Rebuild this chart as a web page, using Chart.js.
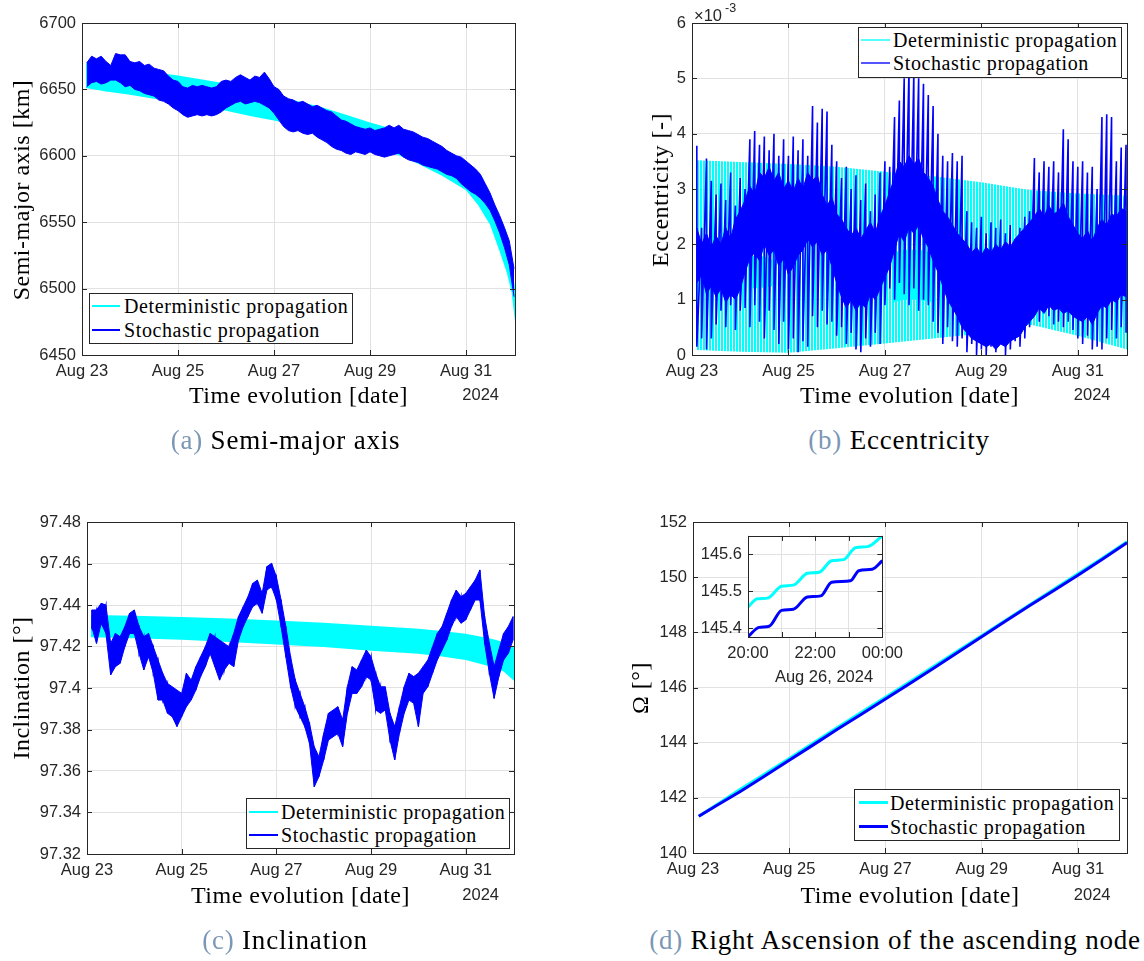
<!DOCTYPE html>
<html><head><meta charset="utf-8">
<script src="https://cdn.jsdelivr.net/npm/chart.js@4.4.1/dist/chart.umd.min.js"></script>
<style>
body{margin:0;background:#fff;}
#page{position:relative;width:1144px;height:961px;overflow:hidden;background:#fff;}
canvas{position:absolute;}
.t{position:absolute;white-space:nowrap;line-height:1;font-family:'Liberation Serif','Times New Roman',serif;color:#000;}
.lab{font-size:24px;letter-spacing:0.5px;transform:translate(-50%,-50%);}
.ylab{font-size:24px;letter-spacing:0.5px;transform:translate(-50%,-50%) rotate(-90deg);}
.cap{font-size:27px;letter-spacing:0.8px;transform:translate(-50%,-50%);}
.cap span{color:#7b97b5;}
.sans{position:absolute;white-space:nowrap;line-height:1;font-family:'Liberation Sans',Arial,sans-serif;color:#262626;}
.yr{font-size:16.5px;transform:translate(-100%,-50%);}
.leg{position:absolute;border:1px solid #262626;background:#fff;box-sizing:border-box;}
.legline{position:absolute;height:0;}
.legtxt{position:absolute;white-space:nowrap;line-height:1;font-family:'Liberation Serif','Times New Roman',serif;font-size:20px;letter-spacing:0.6px;transform:translateY(-50%);color:#000;}
</style>
</head>
<body>
<div id="page">
<canvas id="ca"></canvas>
<canvas id="cb"></canvas>
<canvas id="cc"></canvas>
<canvas id="cd"></canvas>
<canvas id="ci"></canvas>
</div>
<script>
// ================= DATA =================
// time axis: days since Aug 23 2024 00:00
const xTickDays = [0, 2, 4, 6, 8];
const xTickLabels = ['Aug 23', 'Aug 25', 'Aug 27', 'Aug 29', 'Aug 31'];

// sampling times of the stochastic traces (days)
const stochTime = [0.1,0.2,0.3,0.4,0.5,0.6,0.7,0.8,0.9,1.0,
 1.1,1.2,1.3,1.4,1.5,1.6,1.7,1.8,1.9,2.0,
 2.1,2.2,2.3,2.4,2.5,2.6,2.7,2.8,2.9,3.0,
 3.1,3.2,3.3,3.4,3.5,3.6,3.7,3.8,3.9,4.0,
 4.1,4.2,4.3,4.4,4.5,4.6,4.7,4.8,4.9,5.0,
 5.1,5.2,5.3,5.4,5.5,5.6,5.7,5.8,5.9,6.0,
 6.1,6.2,6.3,6.4,6.5,6.6,6.7,6.8,6.9,7.0,
 7.1,7.2,7.3,7.4,7.5,7.6,7.7,7.8,7.9,8.0,
 8.1,8.2,8.3,8.4,8.5,8.6,8.7,8.8,8.9,9.0];

// (a) semi-major axis [km]
const yTicksA = [6450, 6500, 6550, 6600, 6650, 6700];
const detTimeA = [0.08, 0.5, 1, 1.5, 2, 2.5, 3, 3.5, 4, 4.5, 5, 5.5, 6, 6.5, 7, 7.5, 8, 8.25, 8.5, 8.7, 8.85, 8.95, 9.02];
const detUpperA = [6670, 6668, 6665.5, 6663, 6660.5, 6657.5, 6654.5, 6650, 6645.5, 6641, 6636.5, 6631, 6625, 6620, 6613, 6604, 6593, 6582, 6567, 6549, 6533, 6518, 6500];
const detLowerA = [6651, 6648.5, 6646, 6643, 6640, 6637, 6634, 6630, 6626.5, 6622.5, 6618, 6612.5, 6607.5, 6602, 6594, 6585, 6574, 6563, 6548, 6528, 6512, 6497, 6475];
const stochUpperA = [6670,6675,6673,6675,6671,6668,6677,6676,6676,6671,
 6670,6671,6668,6669,6666,6665,6664,6660,6657,6656,
 6652,6651,6653,6652,6653,6652,6651,6652,6656,6657,
 6656,6659,6661,6659,6657,6660,6659,6663,6658,6652,
 6650,6645,6643,6642,6640,6641,6639,6637,6638,6636,
 6634,6633,6630,6627,6626,6624,6622,6621,6620,6621,
 6619,6620,6621,6623,6621,6623,6620,6619,6618,6616,
 6614,6613,6611,6609,6607,6604,6602,6600,6599,6596,
 6593,6590,6586,6579,6572,6563,6555,6546,6536,6515];
const stochLowerA = [6652,6655,6656,6654,6655,6657,6657,6655,6652,6653,
 6650,6649,6647,6646,6645,6642,6641,6639,6636,6634,
 6631,6629,6630,6631,6630,6631,6630,6631,6633,6636,
 6638,6640,6641,6639,6640,6641,6640,6638,6636,6632,
 6627,6622,6619,6618,6619,6617,6616,6617,6614,6612,
 6610,6607,6605,6604,6602,6601,6603,6602,6601,6603,
 6601,6600,6599,6600,6601,6602,6599,6597,6596,6595,
 6593,6592,6591,6590,6588,6586,6585,6583,6579,6576,
 6573,6571,6568,6564,6559,6551,6542,6531,6518,6494];

// (b) eccentricity [x 1e-3]
const yTicksB = [0, 1, 2, 3, 4, 5, 6];
const detTimeB = [0.1, 1, 2, 3, 4, 5, 6, 7, 8, 9.02];
const detUpperB = [3.52, 3.49, 3.45, 3.40, 3.31, 3.23, 3.12, 2.98, 2.92, 2.88];
const detLowerB = [0.09, 0.06, 0.04, 0.12, 0.21, 0.30, 0.39, 0.55, 0.35, 0.10];
const detDenseTime1 = [1.15, 1.3, 1.5, 1.72];
const detDenseUpper1 = [1.75, 1.8, 1.78, 1.7];
const detDenseLower1 = [1.22, 1.2, 1.22, 1.25];
const detDenseTime2 = [4.15, 4.4, 4.7, 5.0];
const detDenseUpper2 = [1.85, 1.9, 1.9, 1.85];
const detDenseLower2 = [0.95, 1.0, 1.0, 0.95];
const coreUpperB = [2.3,2.0,2.2,1.95,2.15,2.0,2.3,2.1,2.45,2.6,
 2.8,3.05,2.9,3.3,3.2,3.4,3.15,3.3,3.0,3.15,
 2.95,3.2,3.0,3.3,3.15,3.25,2.9,2.7,2.85,2.55,
 2.45,2.3,2.15,2.3,2.1,2.25,2.4,2.2,2.5,2.7,
 2.95,3.2,3.5,3.4,3.6,3.45,3.55,3.3,3.2,3.05,
 2.8,2.6,2.5,2.35,2.2,2.1,2.0,1.85,1.95,1.8,
 1.95,1.85,2.0,1.9,2.05,1.95,2.1,2.2,2.3,2.4,
 2.5,2.65,2.5,2.7,2.55,2.6,2.75,2.5,2.35,2.2,
 2.1,2.25,2.05,2.3,2.45,2.35,2.55,2.5,2.65,2.6];
const coreLowerB = [1.3,1.45,1.1,1.25,1.05,1.2,0.95,1.1,1.0,1.2,
 1.5,1.75,1.85,1.7,2.0,1.8,1.9,1.6,1.75,1.45,
 1.6,1.8,1.9,2.1,1.95,2.05,1.8,1.9,1.6,1.3,
 1.05,0.85,1.0,0.8,0.95,0.85,1.1,1.0,1.2,1.4,
 1.6,1.9,2.2,2.05,2.3,2.2,2.35,2.1,1.95,1.7,
 1.5,1.25,1.0,0.85,0.7,0.5,0.4,0.3,0.25,0.2,
 0.15,0.2,0.1,0.2,0.15,0.25,0.3,0.35,0.5,0.6,
 0.7,0.85,0.75,0.9,0.8,0.85,0.75,0.8,0.7,0.65,
 0.6,0.7,0.55,0.75,0.9,0.85,1.0,0.95,1.1,1.05];
const spikeHighB = [3.78,2.3,3.55,3.15,2.9,3.1,2.8,3.3,2.7,3.2,
 3.0,3.9,4.05,3.8,3.95,3.7,4.0,3.6,3.9,3.6,
 3.95,3.7,3.9,3.6,4.5,4.2,4.45,4.4,3.8,3.5,
 3.2,3.4,3.0,3.25,2.8,3.1,2.6,2.9,3.3,3.5,
 3.4,4.3,4.6,5.0,5.2,5.1,5.0,4.9,4.7,4.5,
 4.0,3.6,3.5,3.65,3.5,3.6,2.6,2.4,2.3,2.5,
 2.2,2.4,2.3,2.45,2.2,2.35,2.1,2.3,2.5,2.6,
 3.56,3.3,3.5,3.4,3.5,3.3,4.08,3.9,3.5,3.4,
 3.5,3.3,3.4,3.0,4.3,4.35,4.3,3.5,3.75,3.8];
const spikeLowB = [0.15,0.3,0.1,0.3,0.55,0.8,0.5,0.9,0.45,0.8,
 0.85,0.5,0.9,0.6,0.3,0.8,0.45,0.2,0.6,0.1,
 0.3,0.05,0.25,0.15,0.7,0.5,0.8,0.55,0.6,0.35,
 0.5,0.2,0.4,0.1,0.05,0.3,0.15,0.4,0.2,0.9,
 1.2,1.0,1.3,1.1,0.9,1.2,0.8,1.0,0.9,0.6,
 0.4,0.2,0.5,0.25,0.15,0.3,0.05,0.2,0.0,0.1,
 0.0,0.15,0.05,0.2,0.0,0.1,0.25,0.15,0.3,0.5,
 0.8,0.6,0.9,0.7,0.55,0.6,0.5,0.6,0.45,0.3,
 0.2,0.35,0.1,0.15,0.1,0.3,0.45,0.3,0.5,0.4];

// (c) inclination [deg]
const yTicksC = [97.32, 97.34, 97.36, 97.38, 97.40, 97.42, 97.44, 97.46, 97.48];
const detTimeC = [0.08, 1, 2, 3, 4, 5, 6, 7, 7.5, 8, 8.5, 8.8, 9.02];
const detUpperC = [97.4352, 97.4348, 97.4342, 97.4335, 97.4325, 97.4315, 97.4300, 97.4285, 97.4275, 97.4262, 97.4240, 97.4222, 97.4195];
const detLowerC = [97.4245, 97.4240, 97.4232, 97.4222, 97.4210, 97.4198, 97.4180, 97.4165, 97.4152, 97.4135, 97.4105, 97.4080, 97.4035];
const stochUpperC = [97.4376,97.4376,97.4408,97.4400,97.4215,97.4263,97.4247,97.4296,97.4360,97.4376,
 97.4296,97.4247,97.4263,97.4199,97.4135,97.4071,97.4022,97.4006,97.3990,97.3974,
 97.4071,97.4038,97.4103,97.4151,97.4199,97.4263,97.4247,97.4231,97.4215,97.4199,
 97.4263,97.4344,97.4392,97.4440,97.4504,97.4520,97.4456,97.4585,97.4601,97.4537,
 97.4424,97.4296,97.4151,97.4038,97.3974,97.3910,97.3830,97.3717,97.3669,97.3781,
 97.3878,97.3894,97.3910,97.3846,97.4006,97.4103,97.4087,97.4135,97.4183,97.4151,
 97.4071,97.4006,97.4006,97.3878,97.3814,97.3910,97.4006,97.4071,97.4055,97.4071,
 97.4103,97.4135,97.4199,97.4263,97.4296,97.4360,97.4424,97.4472,97.4440,97.4456,
 97.4488,97.4520,97.4569,97.4344,97.4215,97.4103,97.4183,97.4263,97.4296,97.4344];
const stochLowerC = [97.4296,97.4215,97.4312,97.4263,97.4063,97.4103,97.4119,97.4199,97.4263,97.4263,
 97.4167,97.4087,97.4151,97.4071,97.3942,97.3942,97.3878,97.3862,97.3814,97.3862,
 97.3910,97.3942,97.3990,97.4055,97.4103,97.4167,97.4103,97.4038,97.4087,97.4119,
 97.4103,97.4231,97.4296,97.4344,97.4392,97.4408,97.4360,97.4472,97.4488,97.4424,
 97.4296,97.4151,97.4006,97.3910,97.3862,97.3814,97.3733,97.3524,97.3573,97.3653,
 97.3749,97.3765,97.3781,97.3717,97.3878,97.3974,97.3974,97.4006,97.4055,97.4038,
 97.3894,97.3878,97.3894,97.3749,97.3653,97.3781,97.3878,97.3942,97.3926,97.3814,
 97.3974,97.4006,97.4071,97.4135,97.4183,97.4231,97.4296,97.4344,97.4312,97.4328,
 97.4376,97.4424,97.4424,97.4215,97.4071,97.3950,97.4055,97.4135,97.4167,97.4231];

// (d) RAAN [deg]
const yTicksD = [140, 142, 144, 146, 148, 150, 152];
const raanTime = [0.12, 0.5, 1, 1.5, 2, 2.5, 3, 3.5, 4, 4.5, 5, 5.5, 6, 6.5, 7, 7.5, 8, 8.5, 9.02];
const raanDet = [141.33, 141.76, 142.33, 142.87, 143.43, 143.99, 144.55, 145.10, 145.65, 146.20, 146.76, 147.32, 147.88, 148.44, 149.00, 149.56, 150.12, 150.68, 151.28];
const raanStoch = [141.33, 141.73, 142.25, 142.80, 143.36, 143.92, 144.49, 145.03, 145.58, 146.14, 146.70, 147.27, 147.84, 148.41, 148.97, 149.52, 150.07, 150.64, 151.25];
// inset: Aug 26, 20:00 - 24:00 (hours)
const insetXTicks = [20, 21, 22, 23, 24];
const insetXLabels = ['20:00', '', '22:00', '', '00:00'];
const insetYTicks = [145.4, 145.5, 145.6];
const insetDetHours = [20, 20.28, 20.58, 21.0, 21.35, 21.77, 22.12, 22.49, 22.85, 23.2, 23.56, 24];
const insetDet = [145.458, 145.480, 145.482, 145.514, 145.517, 145.549, 145.552, 145.583, 145.586, 145.618, 145.621, 145.650];
const insetStochHours = [20, 20.33, 20.63, 21.0, 21.35, 21.77, 22.17, 22.49, 23.05, 23.3, 23.7, 24];
const insetStoch = [145.378, 145.403, 145.406, 145.449, 145.452, 145.485, 145.488, 145.525, 145.529, 145.556, 145.560, 145.583];

// ================= STYLE / HELPERS =================
const CYAN = '#00ffff', BLUE = '#0000ff', AX = '#262626', GRID = '#e2e2e2';
const TICKFONT = {family: "'Liberation Sans', Arial, sans-serif", size: 16.5};
const xy = (ts, vs) => ts.map((t, i) => ({x: t, y: vs[i]}));
// vertical strokes between the high and low value of each sample
const zigzag = (ts, hi, lo) => { const out = []; ts.forEach((t, i) => { out.push({x: t, y: hi[i]}); out.push({x: t, y: lo[i]}); }); return out; };

const boxPlugin = {
  id: 'boxTicks',
  afterDatasetsDraw(chart) {
    const {ctx, chartArea: a, scales: {x, y}} = chart;
    const L = 5;
    ctx.save();
    ctx.strokeStyle = AX; ctx.lineWidth = 1;
    ctx.beginPath();
    for (const t of x.ticks) {
      const px = Math.round(x.getPixelForValue(t.value)) + 0.5;
      ctx.moveTo(px, a.bottom); ctx.lineTo(px, a.bottom - L);
      ctx.moveTo(px, a.top); ctx.lineTo(px, a.top + L);
    }
    for (const t of y.ticks) {
      const py = Math.round(y.getPixelForValue(t.value)) + 0.5;
      ctx.moveTo(a.left, py); ctx.lineTo(a.left + L, py);
      ctx.moveTo(a.right, py); ctx.lineTo(a.right - L, py);
    }
    ctx.stroke();
    ctx.strokeRect(Math.round(a.left) + 0.5, Math.round(a.top) + 0.5, Math.round(a.right - a.left), Math.round(a.bottom - a.top));
    ctx.restore();
  }
};
const whiteArea = {
  id: 'whiteArea',
  beforeDraw(chart) {
    const {ctx, chartArea: a} = chart;
    ctx.save(); ctx.fillStyle = '#fff';
    ctx.fillRect(a.left, a.top, a.right - a.left, a.bottom - a.top);
    ctx.restore();
  }
};

function axisCfg(min, max, tickVals, labelFn, isX) {
  return {
    type: 'linear', min, max,
    afterBuildTicks: s => { s.ticks = tickVals.map(v => ({value: v})); },
    ticks: {callback: labelFn, font: TICKFONT, color: AX, padding: isX ? 7 : 6, maxRotation: 0, autoSkip: false},
    grid: {color: GRID, lineWidth: 1, drawTicks: false},
    border: {display: false}
  };
}
const xAxisMain = () => axisCfg(0, 9.02, xTickDays, v => { const i = xTickDays.indexOf(v); return i >= 0 ? xTickLabels[i] : ''; }, true);

function mk(id, rect, area, datasets, xCfg, yCfg, extraPlugins) {
  const cv = document.getElementById(id);
  cv.width = rect[2]; cv.height = rect[3];
  cv.style.left = rect[0] + 'px'; cv.style.top = rect[1] + 'px';
  const YW = 55, XH = 35;
  xCfg.afterFit = s => { s.height = XH; };
  yCfg.afterFit = s => { s.width = YW; };
  return new Chart(cv, {
    type: 'line',
    data: {datasets},
    options: {
      responsive: false, animation: false, devicePixelRatio: 1,
      layout: {padding: {left: area[0] - rect[0] - YW, top: area[1] - rect[1], right: rect[0] + rect[2] - area[2], bottom: rect[1] + rect[3] - area[3] - XH}},
      plugins: {legend: {display: false}, tooltip: {enabled: false}},
      elements: {point: {radius: 0}, line: {tension: 0}},
      scales: {x: xCfg, y: yCfg}
    },
    plugins: [boxPlugin].concat(extraPlugins || [])
  });
}
function band(ts1, up, ts2, lo, color, bw, order) {
  return [
    {data: xy(ts1, up), borderColor: bw ? color : 'rgba(0,0,0,0)', borderWidth: bw, backgroundColor: color, fill: '+1', pointRadius: 0, order},
    {data: xy(ts2, lo), borderColor: bw ? color : 'rgba(0,0,0,0)', borderWidth: bw, backgroundColor: color, fill: false, pointRadius: 0, order}
  ];
}

// ================= PANEL A =================
mk('ca', [0, 0, 560, 420], [82, 23, 515, 355],
  [...band(stochTime, stochUpperA, stochTime, stochLowerA, BLUE, 1, 1),
   ...band(detTimeA, detUpperA, detTimeA, detLowerA, CYAN, 0, 2)],
  xAxisMain(), axisCfg(6450, 6700, yTicksA, v => String(v), false));

// ================= PANEL B =================
const pc = document.createElement('canvas'); pc.width = 3; pc.height = 4;
const pctx = pc.getContext('2d'); pctx.fillStyle = CYAN; pctx.fillRect(0, 0, 2, 4);
const stripe = pctx.createPattern(pc, 'repeat');
mk('cb', [580, 0, 564, 420], [692, 23, 1127, 355],
  [{data: zigzag(stochTime, spikeHighB, spikeLowB), borderColor: BLUE, borderWidth: 1.6, fill: false, pointRadius: 0, order: 1},
   ...band(stochTime, coreUpperB, stochTime, coreLowerB, BLUE, 1, 2),
   ...band(detDenseTime1, detDenseUpper1, detDenseTime1, detDenseLower1, CYAN, 0, 3),
   ...band(detDenseTime2, detDenseUpper2, detDenseTime2, detDenseLower2, CYAN, 0, 3),
   ...band(detTimeB, detUpperB, detTimeB, detLowerB, stripe, 0, 4)],
  xAxisMain(), axisCfg(0, 6, yTicksB, v => String(v), false));

// ================= PANEL C =================
mk('cc', [0, 470, 560, 450], [87, 522, 514, 854],
  [{data: zigzag(stochTime, stochUpperC, stochLowerC), borderColor: BLUE, borderWidth: 1.2, fill: false, pointRadius: 0, order: 0},
   ...band(stochTime, stochUpperC, stochTime, stochLowerC, BLUE, 1, 1),
   ...band(detTimeC, detUpperC, detTimeC, detLowerC, CYAN, 0, 2)],
  xAxisMain(), axisCfg(97.32, 97.48, yTicksC, v => String(+v.toFixed(2)), false));

// ================= PANEL D =================
mk('cd', [580, 470, 564, 450], [693, 522, 1127, 853],
  [{data: xy(raanTime, raanStoch), borderColor: BLUE, borderWidth: 3, fill: false, pointRadius: 0, order: 1},
   {data: xy(raanTime, raanDet), borderColor: CYAN, borderWidth: 3, fill: false, pointRadius: 0, order: 2}],
  xAxisMain(), axisCfg(140, 152, yTicksD, v => String(v), false));

// inset
mk('ci', [640, 520, 270, 170], [748, 533, 889, 637],
  [{data: xy(insetStochHours, insetStoch), borderColor: BLUE, borderWidth: 3, fill: false, pointRadius: 0, order: 1, cubicInterpolationMode: 'monotone'},
   {data: xy(insetDetHours, insetDet), borderColor: CYAN, borderWidth: 3, fill: false, pointRadius: 0, order: 2, cubicInterpolationMode: 'monotone'}],
  axisCfg(20, 24, insetXTicks, v => insetXLabels[insetXTicks.indexOf(v)] || '', true),
  axisCfg(145.377, 145.65, insetYTicks, v => v.toFixed(1), false), [whiteArea]);

// ================= TEXT =================
const page = document.getElementById('page');
function txt(cls, html, x, y) {
  const d = document.createElement('div'); d.className = cls; d.innerHTML = html;
  d.style.left = x + 'px'; d.style.top = y + 'px'; page.appendChild(d); return d;
}
// axis titles
txt('t lab', 'Time evolution [date]', 298.5, 395);
txt('t lab', 'Time evolution [date]', 909.5, 395);
txt('t lab', 'Time evolution [date]', 300.5, 895);
txt('t lab', 'Time evolution [date]', 910, 895);
txt('t ylab', 'Semi-major axis [km]', 21, 190);
txt('t ylab', 'Eccentricity [-]', 660, 190);
txt('t ylab', 'Inclination [°]', 21, 688);
txt('t ylab', 'Ω [°]', 640, 688);
// year labels
txt('sans yr', '2024', 499, 394);
txt('sans yr', '2024', 1110.5, 394);
txt('sans yr', '2024', 499, 894);
txt('sans yr', '2024', 1110.5, 894);
// exponent
const e1 = txt('sans', '×10', 694, 14.5); e1.style.fontSize = '16.5px'; e1.style.transform = 'translateY(-50%)';
const e2 = txt('sans', '-3', 725, 7.5); e2.style.fontSize = '12.5px'; e2.style.transform = 'translateY(-50%)';
// inset date
const e3 = txt('sans', 'Aug 26, 2024', 824, 676); e3.style.fontSize = '16.5px'; e3.style.transform = 'translate(-50%,-50%)';
// captions
txt('t cap', '<span>(a)</span> Semi-major axis', 285.5, 440);
txt('t cap', '<span>(b)</span> Eccentricity', 899, 440);
txt('t cap', '<span>(c)</span> Inclination', 285, 940);
txt('t cap', '<span>(d)</span> Right Ascension of the ascending node', 895, 940);

// legends
function legend(box, sx0, sx1, tx, rows, colors, lw) {
  const b = document.createElement('div'); b.className = 'leg';
  b.style.left = box[0] + 'px'; b.style.top = box[1] + 'px';
  b.style.width = (box[2] - box[0]) + 'px'; b.style.height = (box[3] - box[1]) + 'px';
  page.appendChild(b);
  const names = ['Deterministic propagation', 'Stochastic propagation'];
  rows.forEach((ry, i) => {
    const l = document.createElement('div'); l.className = 'legline';
    l.style.left = sx0 + 'px'; l.style.width = (sx1 - sx0) + 'px';
    l.style.top = Math.round(ry - lw / 2) + 'px'; l.style.borderTop = lw + 'px solid ' + colors[i];
    page.appendChild(l);
    const t = document.createElement('div'); t.className = 'legtxt'; t.textContent = names[i];
    t.style.left = tx + 'px'; t.style.top = ry + 'px'; page.appendChild(t);
  });
}
legend([89, 293, 353, 344], 92, 120, 124, [306, 330], [CYAN, BLUE], 2);
legend([858, 27, 1122, 78], 861, 890, 893, [40, 63], ['#55ffff', '#5555ff'], 2);
legend([246, 798, 510, 849], 249, 278, 281, [811.5, 834.5], [CYAN, BLUE], 2);
legend([854, 789, 1120, 841], 859, 888, 890, [802.5, 826.5], [CYAN, BLUE], 3);
</script>
</body></html>
